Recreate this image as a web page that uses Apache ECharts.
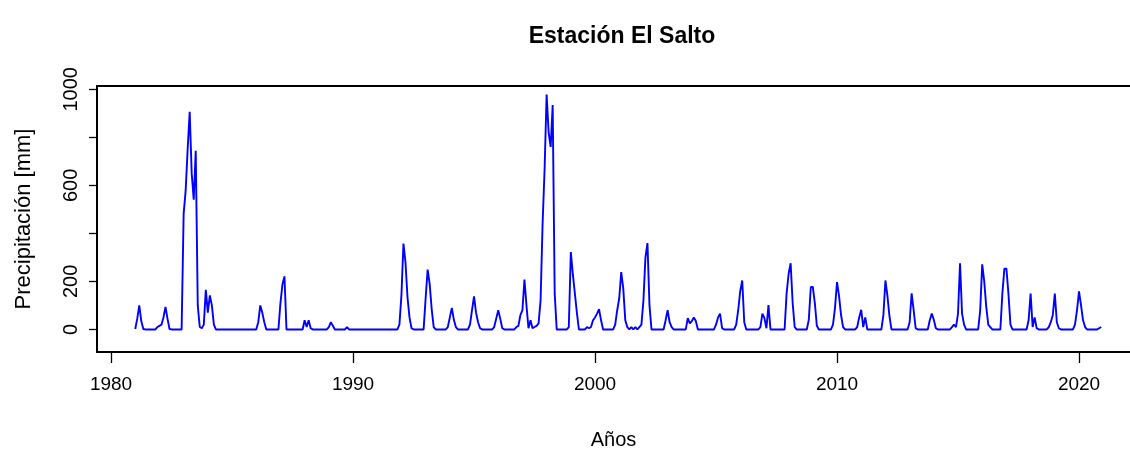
<!DOCTYPE html>
<html><head><meta charset="utf-8">
<script src="https://cdn.jsdelivr.net/npm/echarts@6/dist/echarts.min.js"></script>
<style>html,body{margin:0;padding:0;background:#fff}#c{width:1130px;height:450px}</style>
</head><body><div id="c"></div>
<script>
const startYear = 1981;
const rain1981_1990 = [
  2, 45, 100, 35, 2, 0, 0, 0, 0, 0, 0, 10,
  15, 20, 50, 94, 45, 2, 0, 0, 0, 0, 0, 0,
  480, 578, 752, 907, 650, 540, 744, 100, 10, 5, 20, 165,
  70, 142, 100, 20, 0, 0, 0, 0, 0, 0, 0, 0,
  0, 0, 0, 0, 0, 0, 0, 0, 0, 0, 0, 0,
  0, 30, 100, 70, 30, 0, 0, 0, 0, 0, 0, 0,
  110, 188, 221, 0, 0, 0, 0, 0, 0, 0, 0, 0,
  38, 10, 38, 5, 0, 0, 0, 0, 0, 0, 0, 0,
  10, 30, 15, 0, 0, 0, 0, 0, 0, 10, 0, 0,
  0, 0, 0, 0, 0, 0, 0, 0, 0, 0, 0, 0
];
const rain1991_2000 = [
  0, 0, 0, 0, 0, 0, 0, 0, 0, 0, 0, 20,
  142, 358, 280, 135, 50, 5, 0, 0, 0, 0, 0, 0,
  130, 249, 190, 85, 10, 0, 0, 0, 0, 0, 0, 10,
  50, 90, 40, 10, 0, 0, 0, 0, 0, 0, 20, 80,
  138, 70, 30, 5, 0, 0, 0, 0, 0, 0, 10, 45,
  80, 45, 5, 0, 0, 0, 0, 0, 0, 10, 15, 60,
  80, 208, 100, 5, 38, 5, 10, 15, 25, 120, 440, 669,
  978, 820, 760, 935, 150, 0, 0, 0, 0, 0, 0, 10,
  322, 230, 150, 70, 0, 0, 0, 0, 10, 5, 10, 38,
  50, 66, 84, 38, 0, 0, 0, 0, 0, 0, 20, 80
];
const rain2001_2010 = [
  130, 239, 171, 38, 10, 0, 10, 0, 10, 0, 10, 20,
  120, 300, 360, 100, 0, 0, 0, 0, 0, 0, 0, 38,
  80, 30, 10, 0, 0, 0, 0, 0, 0, 0, 47, 25,
  35, 50, 35, 0, 0, 0, 0, 0, 0, 0, 0, 0,
  20, 50, 66, 5, 0, 0, 0, 0, 0, 0, 20, 80,
  160, 204, 30, 0, 0, 0, 0, 0, 0, 0, 10, 66,
  47, 5, 101, 0, 0, 0, 0, 0, 0, 0, 0, 150,
  232, 276, 110, 10, 0, 0, 0, 0, 0, 0, 40, 177,
  177, 110, 15, 0, 0, 0, 0, 0, 0, 0, 20, 90,
  197, 140, 60, 10, 0, 0, 0, 0, 0, 0, 10, 50
];
const rain2011_2020 = [
  82, 10, 50, 0, 0, 0, 0, 0, 0, 0, 0, 60,
  204, 140, 55, 0, 0, 0, 0, 0, 0, 0, 0, 0,
  30, 150, 80, 5, 0, 0, 0, 0, 0, 0, 38, 66,
  40, 5, 0, 0, 0, 0, 0, 0, 0, 10, 20, 10,
  66, 276, 66, 20, 0, 0, 0, 0, 0, 0, 0, 80,
  271, 200, 94, 20, 10, 0, 0, 0, 0, 0, 150, 253,
  253, 149, 20, 0, 0, 0, 0, 0, 0, 0, 0, 38,
  149, 10, 50, 5, 0, 0, 0, 0, 0, 10, 30, 60,
  149, 30, 5, 0, 0, 0, 0, 0, 0, 0, 20, 80,
  159, 100, 38, 10, 0, 0, 0, 0, 0, 0, 5, 10
];
const xTicks = [1980, 1990, 2000, 2010, 2020];
const yTicks = [0, 200, 400, 600, 800, 1000];
const yLabels = [0, 200, 600, 1000];

const values = [].concat(rain1981_1990, rain1991_2000, rain2001_2010, rain2011_2020);
const seriesData = values.map((v, i) => [startYear + i / 12, v]);

const font = "'Liberation Sans', Arial, sans-serif";
const xMin = 1979.42, xMax = 2022.107;

const chart = echarts.init(document.getElementById('c'), null, {renderer: 'canvas'});
chart.setOption({
  animation: false,
  backgroundColor: '#ffffff',
  title: {
    text: 'Estación El Salto',
    left: 617, top: 20, textAlign: 'center',
    textStyle: {fontFamily: font, fontSize: 23, fontWeight: 'bold', color: '#000'}
  },
  grid: {left: 97, right: 0, top: 86, bottom: 98, containLabel: false, outerBoundsMode: 'none'},
  xAxis: [{
    type: 'value', min: xMin, max: xMax, position: 'bottom',
    name: 'Años', nameLocation: 'middle', nameGap: 78,
    nameTextStyle: {fontFamily: font, fontSize: 20, color: '#000'},
    axisLine: {show: true, onZero: false, lineStyle: {color: '#000', width: 2}},
    axisTick: {show: true, length: 11, customValues: xTicks, lineStyle: {color: '#000', width: 1.3}},
    axisLabel: {show: true, margin: 23, customValues: xTicks, fontFamily: font, fontSize: 19, color: '#000',
      formatter: v => String(Math.round(v))},
    splitLine: {show: false}
  }, {
    type: 'value', min: xMin, max: xMax, position: 'top',
    axisLine: {show: true, onZero: false, lineStyle: {color: '#000', width: 2}},
    axisTick: {show: false}, axisLabel: {show: false}, splitLine: {show: false}
  }],
  yAxis: {
    type: 'value', min: -94, max: 1014,
    name: 'Precipitación [mm]', nameLocation: 'middle', nameGap: 62, nameRotate: 90,
    nameTextStyle: {fontFamily: font, fontSize: 22, color: '#000'},
    axisLine: {show: true, onZero: false, lineStyle: {color: '#000', width: 2}},
    axisTick: {show: true, length: 8, customValues: yTicks, lineStyle: {color: '#000', width: 1.3}},
    axisLabel: {show: true, rotate: 90, margin: 16, customValues: yLabels, fontFamily: font, fontSize: 20, color: '#000',
      formatter: v => String(Math.round(v))},
    splitLine: {show: false}
  },
  series: [{
    type: 'line', xAxisIndex: 0, data: seriesData,
    showSymbol: false, symbol: 'none',
    lineStyle: {color: '#0000ff', width: 1.9},
    itemStyle: {color: '#0000ff'}
  }]
});
</script></body></html>
